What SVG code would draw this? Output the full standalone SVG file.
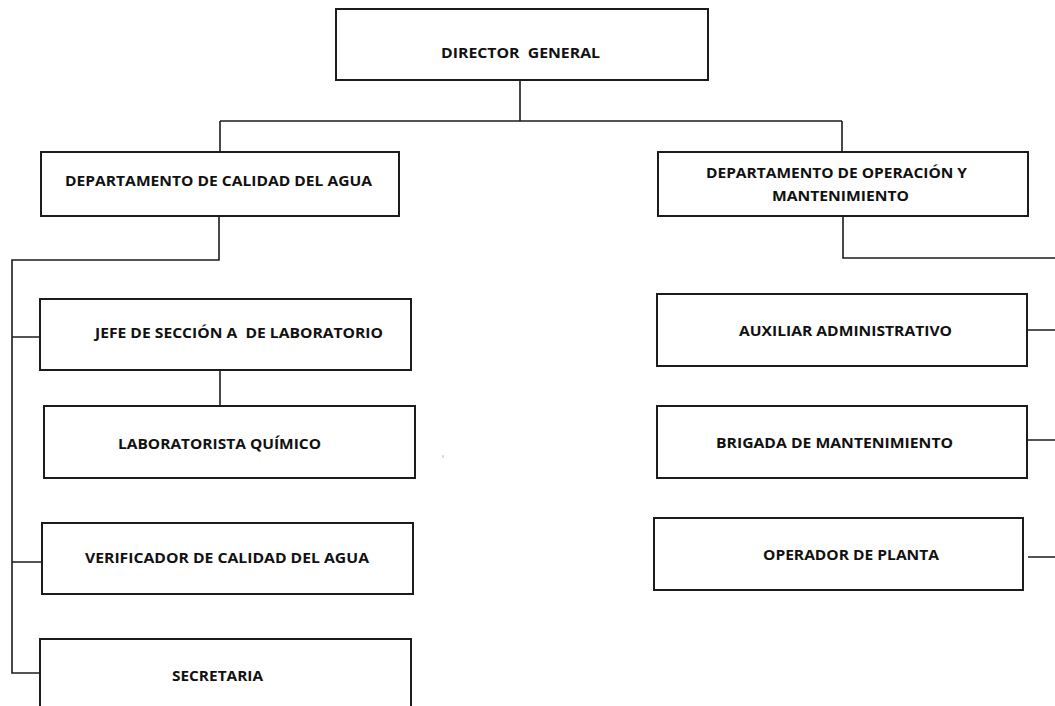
<svg xmlns="http://www.w3.org/2000/svg" width="1055" height="706" viewBox="0 0 1055 706">
<style>
.box{fill:#fff;stroke:#1c1c1c;stroke-width:2}
.lbl{font-family:"Open Sans","Liberation Sans",Arial,sans-serif;font-weight:bold;font-size:13.6px;fill:#111;white-space:pre}
.con{fill:none;stroke:#1c1c1c;stroke-width:1.6}
</style>
<rect width="1055" height="706" fill="#fff"/>
<g id="connectors">
<path class="con" d="M520,80 V121 M220,121 H842 M220,121 V152 M842,121 V152"/>
<path class="con" d="M219,216 V260 H12 V673 H44 M12,337 H40 M12,562 H42"/>
<path class="con" d="M220,370 V406"/>
<path class="con" d="M843,216 V258 H1056 M1028,330 H1056 M1028,440 H1056 M1028,557 H1056"/>
</g>
<g id="director">
<rect class="box" x="336" y="9" width="372" height="71"/>
<text class="lbl" x="441" y="58" textLength="159" lengthAdjust="spacingAndGlyphs" xml:space="preserve">DIRECTOR  GENERAL</text>
</g>
<g id="dept-calidad">
<rect class="box" x="41" y="152" width="358" height="64"/>
<text class="lbl" x="65" y="186" textLength="307" lengthAdjust="spacingAndGlyphs">DEPARTAMENTO DE CALIDAD DEL AGUA</text>
</g>
<g id="dept-operacion">
<rect class="box" x="658" y="152" width="370" height="64"/>
<text class="lbl" x="706" y="178" textLength="261" lengthAdjust="spacingAndGlyphs">DEPARTAMENTO DE OPERACIÓN Y</text>
<text class="lbl" x="772" y="201" textLength="137" lengthAdjust="spacingAndGlyphs">MANTENIMIENTO</text>
</g>
<g id="jefe">
<rect class="box" x="40" y="299" width="371" height="71"/>
<text class="lbl" x="95" y="338" textLength="288" lengthAdjust="spacingAndGlyphs" xml:space="preserve">JEFE DE SECCIÓN A  DE LABORATORIO</text>
</g>
<g id="laboratorista">
<rect class="box" x="44" y="406" width="371" height="72"/>
<text class="lbl" x="118" y="449" textLength="203" lengthAdjust="spacingAndGlyphs">LABORATORISTA QUÍMICO</text>
</g>
<g id="verificador">
<rect class="box" x="42" y="523" width="371" height="71"/>
<text class="lbl" x="85" y="563" textLength="284" lengthAdjust="spacingAndGlyphs">VERIFICADOR DE CALIDAD DEL AGUA</text>
</g>
<g id="secretaria">
<rect class="box" x="40" y="639" width="371" height="80"/>
<text class="lbl" x="172" y="681" textLength="91" lengthAdjust="spacingAndGlyphs">SECRETARIA</text>
</g>
<g id="auxiliar">
<rect class="box" x="657" y="294" width="370" height="72"/>
<text class="lbl" x="739" y="336" textLength="213" lengthAdjust="spacingAndGlyphs">AUXILIAR ADMINISTRATIVO</text>
</g>
<g id="brigada">
<rect class="box" x="657" y="406" width="370" height="72"/>
<text class="lbl" x="716" y="448" textLength="237" lengthAdjust="spacingAndGlyphs">BRIGADA DE MANTENIMIENTO</text>
</g>
<g id="operador">
<rect class="box" x="654" y="518" width="369" height="72"/>
<text class="lbl" x="763" y="560" textLength="176" lengthAdjust="spacingAndGlyphs">OPERADOR DE PLANTA</text>
</g>
<rect x="442" y="455" width="2" height="3" fill="#ddd"/>
</svg>
